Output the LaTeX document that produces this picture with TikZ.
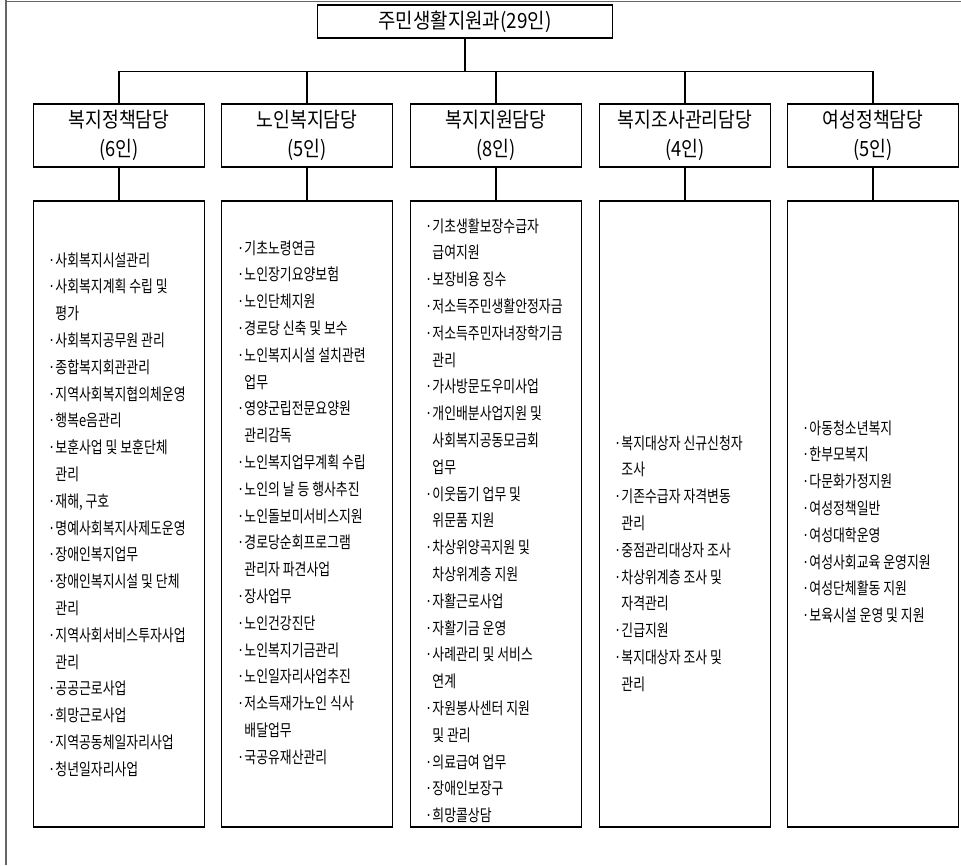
\documentclass[tikz,border=0pt]{standalone}
\usepackage{fontspec}
\newfontfamily\krL[FakeStretch=0.78]{Noto Sans CJK KR}
\newfontfamily\krH[FakeStretch=0.87]{Noto Sans CJK KR}
\newfontfamily\krT[FakeStretch=0.9]{Noto Sans CJK KR}
\newcommand\ind{\phantom{·}}
\newcommand\itemlist[4]{%
  \foreach \t [count=\i] in {#4} {
    \node[item] (#1-\i) at ({#2},{#3+(\i-1)*26.8}) {\t};
  }}
\begin{document}
\begin{tikzpicture}[x=1pt,y=-1pt,
  frame/.style={draw=black!60, line width=1pt},
  topbox/.style={draw, line width=1.5pt, inner sep=0, minimum width=295pt, minimum height=33pt,
    font=\krT\fontsize{21}{24}\selectfont},
  hdr/.style={draw, line width=1.5pt, inner sep=0, minimum width=171pt, minimum height=63pt,
    align=center, font=\krH\fontsize{21}{29}\selectfont},
  lbox/.style={draw, line width=1.5pt, inner sep=0, minimum width=171pt, minimum height=626pt},
  item/.style={anchor=base west, inner sep=0, font=\krL\fontsize{16.5}{20}\selectfont},
  conn/.style={draw, line width=1.2pt}]
\useasboundingbox (0,0) rectangle (961,865);
\draw[frame] (6,1.5) -- (961,1.5);
\draw[frame, line width=1.3pt] (6,0) -- (6,865);

\node[topbox] (top) at (465,21.5) {주민생활지원과(29인)};

\node[hdr] (h1) at (119,135.5) {복지정책담당\\(6인)};
\node[hdr] (h2) at (307,135.5) {노인복지담당\\(5인)};
\node[hdr] (h3) at (496,135.5) {복지지원담당\\(8인)};
\node[hdr] (h4) at (685,135.5) {복지조사관리담당\\(4인)};
\node[hdr] (h5) at (873,135.5) {여성정책담당\\(5인)};

\foreach \i/\x in {1/119,2/307,3/496,4/685,5/873}
  \node[lbox] (l\i) at (\x,514) {};

\foreach \i in {1,...,5} {
  \draw[conn] (top.south) -- ++(0,33) -| (h\i.north);
  \draw[conn] (h\i.south) -- (l\i.north);
}

\itemlist{a}{48}{266}{·사회복지시설관리, ·사회복지계획 수립 및, \ind 평가, ·사회복지공무원 관리, ·종합복지회관관리, ·지역사회복지협의체운영, ·행복e음관리, ·보훈사업 및 보훈단체, \ind 관리, {·재해, 구호}, ·명예사회복지사제도운영, ·장애인복지업무, ·장애인복지시설 및 단체, \ind 관리, ·지역사회서비스투자사업, \ind 관리, ·공공근로사업, ·희망근로사업, ·지역공동체일자리사업, ·청년일자리사업}

\itemlist{b}{237}{254}{·기초노령연금, ·노인장기요양보험, ·노인단체지원, ·경로당 신축 및 보수, ·노인복지시설 설치관련, \ind 업무, ·영양군립전문요양원, \ind 관리감독, ·노인복지업무계획 수립, ·노인의 날 등 행사추진, ·노인돌보미서비스지원, ·경로당순회프로그램, \ind 관리자 파견사업, ·장사업무, ·노인건강진단, ·노인복지기금관리, ·노인일자리사업추진, ·저소득재가노인 식사, \ind 배달업무, ·국공유재산관리}

\itemlist{c}{425}{232}{·기초생활보장수급자, \ind 급여지원, ·보장비용 징수, ·저소득주민생활안정자금, ·저소득주민자녀장학기금, \ind 관리, ·가사방문도우미사업, ·개인배분사업지원 및, \ind 사회복지공동모금회, \ind 업무, ·이웃돕기 업무 및, \ind 위문품 지원, ·차상위양곡지원 및, \ind 차상위계층 지원, ·자활근로사업, ·자활기금 운영, ·사례관리 및 서비스, \ind 연계, ·자원봉사센터 지원, \ind 및 관리, ·의료급여 업무, ·장애인보장구, ·희망콜상담}

\itemlist{d}{614}{449}{·복지대상자 신규신청자, \ind 조사, ·기존수급자 자격변동, \ind 관리, ·중점관리대상자 조사, ·차상위계층 조사 및, \ind 자격관리, ·긴급지원, ·복지대상자 조사 및, \ind 관리}

\itemlist{e}{802}{434}{·아동청소년복지, ·한부모복지, ·다문화가정지원, ·여성정책일반, ·여성대학운영, ·여성사회교육 운영지원, ·여성단체활동 지원, ·보육시설 운영 및 지원}
\end{tikzpicture}
\end{document}
